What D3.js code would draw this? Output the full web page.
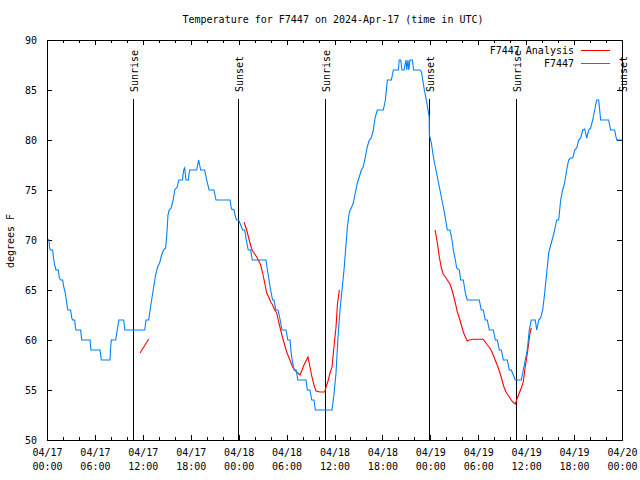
<!DOCTYPE html>
<html><head><meta charset="utf-8">
<script src="https://cdn.jsdelivr.net/npm/d3@7"></script>
<style>
body{margin:0;background:#fff}
text{font-family:"DejaVu Sans Mono","Liberation Mono",monospace;font-size:10px;fill:#000}
</style>
</head><body>
<svg id="c" width="640" height="480"></svg>
<script>
// ---------- data ----------
const title = "Temperature for F7447 on 2024-Apr-17 (time in UTC)";
const yAxisLabel = "degrees F";
const startUTC = Date.UTC(2024, 3, 17, 0, 0);
const xMajorHours = [0, 6, 12, 18, 24, 30, 36, 42, 48, 54, 60, 66, 72];
const xMinorHours = [2, 4, 8, 10, 14, 16, 20, 22, 26, 28, 32, 34, 38, 40, 44, 46, 50, 52, 56, 58, 62, 64, 68, 70];
const yTickValues = [50, 55, 60, 65, 70, 75, 80, 85, 90];
const sunEventNames = ["Sunrise", "Sunset", "Sunrise", "Sunset", "Sunrise", "Sunset"];
const sunEventHours = [10.81, 23.88, 34.85, 47.87, 58.77, 71.95];
const seriesNames = ["F7447 Analysis", "F7447"];

// observed station temperature (hours since 04/17 00:00 UTC)
const blueHours = [0, 0.25, 0.33, 0.46, 0.71, 0.8, 0.95, 1.04, 1.13, 1.42, 1.55, 1.71, 1.96, 2.1, 2.3, 2.45, 2.6, 2.96, 3.1, 3.21, 3.46, 3.55, 3.63, 4.21, 4.35, 5.38, 5.5, 6.64, 6.8, 7.89, 7.95, 8.05, 8.6, 8.8, 9.0, 9.6, 9.75, 12.23, 12.4, 12.73, 13.0, 13.3, 13.6, 13.85, 14.1, 14.35, 14.6, 14.85, 15.0, 15.15, 15.3, 15.55, 15.8, 16.0, 16.3, 16.5, 16.95, 17.12, 17.24, 17.4, 17.7, 17.85, 18.74, 18.99, 19.24, 19.74, 19.99, 20.3, 20.91, 21.16, 22.92, 23.1, 23.42, 23.6, 23.75, 24.0, 24.25, 24.5, 24.76, 24.95, 25.2, 25.5, 25.7, 27.42, 27.6, 27.8, 28.0, 28.25, 28.43, 28.65, 28.93, 29.2, 29.43, 29.93, 30.15, 30.43, 30.6, 30.75, 30.93, 31.2, 31.4, 32.43, 32.6, 32.93, 33.15, 33.43, 33.6, 35.69, 35.94, 36.19, 36.44, 36.69, 36.94, 37.19, 37.44, 37.61, 37.86, 38.1, 38.36, 38.6, 38.86, 39.1, 39.36, 39.6, 39.86, 40.1, 40.36, 40.6, 40.86, 41.1, 41.36, 42.11, 42.37, 42.62, 43.12, 43.37, 44.0, 44.1, 44.29, 44.45, 44.7, 44.95, 45.05, 45.2, 45.3, 45.45, 45.75, 45.9, 46.71, 46.9, 47.05, 47.25, 47.5, 47.71, 47.86, 47.88, 48.13, 48.38, 48.63, 48.88, 49.13, 49.38, 49.63, 49.88, 50.13, 50.46, 50.71, 50.88, 51.13, 51.3, 51.63, 51.8, 52.13, 52.38, 52.63, 54.13, 54.38, 54.63, 54.88, 55.13, 55.39, 55.89, 56.14, 56.39, 56.64, 56.89, 57.14, 57.64, 57.89, 58.14, 58.39, 58.64, 59.39, 59.64, 59.89, 60.14, 60.39, 60.64, 61.14, 61.32, 61.57, 61.82, 62.07, 62.32, 62.57, 62.82, 63.07, 63.32, 63.57, 63.82, 64.07, 64.32, 64.57, 64.82, 65.07, 65.32, 65.57, 65.83, 66.08, 66.33, 66.58, 66.83, 67.08, 67.33, 67.58, 67.83, 68.08, 68.33, 68.58, 68.83, 69.08, 69.33, 70.33, 70.58, 71.08, 71.33, 72];
const blueTemps = [70.1, 70, 69.2, 69, 69, 68.3, 67.5, 67.3, 67, 67, 66.2, 66, 66, 65.3, 64.7, 63.8, 63, 63, 62.2, 62, 62, 61.3, 61, 61, 60, 60, 59, 59, 58, 58, 59, 60, 60, 61, 62, 62, 61, 61, 62, 62, 63.5, 65, 66.5, 67.3, 67.7, 68.5, 69, 69.2, 70.5, 72.5, 73, 73.2, 74, 75, 75.3, 76, 76, 77, 77.2, 76, 76, 77, 77, 78, 77, 77, 76, 75, 75, 74, 74, 73.1, 73, 72.3, 72, 72, 71.5, 71, 71, 70, 69, 69, 68, 68, 67, 66, 65, 64, 64, 63, 63, 62, 61, 61, 60, 60, 58.5, 57.8, 57, 57, 56, 56, 55, 55, 54, 54, 53, 53, 54.6, 56.7, 60.3, 63, 65, 67, 69.5, 71.3, 72.8, 73.2, 73.7, 74.7, 75.7, 76.3, 77, 77.3, 78.3, 79.3, 80, 80.2, 81, 82.3, 83, 83, 84, 86, 86, 87, 87, 88, 88, 87, 87, 88, 87, 88, 87, 88, 88, 87, 87, 86.8, 86, 85, 84, 83, 82.3, 80.5, 79.7, 78.3, 77.3, 76.3, 75.3, 74.3, 73.3, 72.2, 71, 71, 70, 69, 68, 67.2, 67, 66, 66, 64.7, 64, 64, 63, 63, 62, 62, 61, 61, 60, 60, 59, 59, 58, 58, 57, 57, 56.5, 56, 56, 57, 58, 59, 61, 62, 62, 61, 62, 62.2, 63, 64.7, 66.7, 68.7, 69.5, 70.2, 71, 72, 72, 74, 75, 75.7, 77, 78, 78.2, 78.2, 79, 79.2, 80, 80.2, 81, 81.1, 80.2, 81, 81.2, 82, 83, 84, 84, 82, 82, 81, 81, 80, 80];

// analysis (null = gap)
const redHours = [11.65, 12.73, 12.74, 24.67, 25.0, 25.42, 25.67, 26.26, 26.76, 27.0, 27.26, 27.51, 27.76, 28.01, 28.26, 28.51, 28.76, 29.01, 29.26, 29.51, 29.76, 30.01, 30.26, 30.51, 30.76, 31.01, 31.25, 31.68, 32.18, 32.68, 32.93, 33.18, 33.43, 33.68, 34.18, 34.77, 34.94, 35.19, 35.44, 35.69, 35.86, 36.02, 36.19, 36.36, 36.52, 36.61, 36.62, 48.6, 48.88, 49.13, 49.38, 49.6, 49.88, 50.13, 50.46, 50.71, 50.88, 51.13, 51.38, 51.63, 51.88, 52.13, 52.38, 52.63, 52.88, 53.38, 54.63, 54.88, 55.13, 55.47, 55.72, 55.97, 56.22, 56.47, 56.72, 56.97, 57.22, 57.47, 57.72, 57.97, 58.22, 58.47, 58.64, 58.89, 59.14, 59.39, 59.64, 59.82, 59.98, 60.15, 60.32, 60.48, 60.65];
const redTemps = [58.7, 60.1, null, 71.8, 71, 69.7, 69, 68.3, 67.5, 66.7, 65.7, 64.7, 64.3, 63.8, 63.5, 63, 62.7, 61.8, 61, 60.2, 59.5, 58.8, 58.3, 57.8, 57.3, 57, 56.8, 56.5, 57.5, 58.3, 57.3, 56.3, 55.5, 54.9, 54.8, 54.8, 55.3, 55.9, 56.7, 57.3, 58.7, 60, 61.3, 63.5, 64.5, 65, null, 71, 69.7, 68.3, 67.2, 66.6, 66.3, 66, 65.6, 65, 64.5, 63.7, 62.8, 62.2, 61.5, 60.8, 60.3, 59.9, 60, 60.07, 60.07, 59.8, 59.5, 59.2, 58.8, 58.3, 57.8, 57.3, 56.7, 56, 55.3, 54.8, 54.5, 54.2, 53.9, 53.7, 53.6, 54.2, 54.7, 55.2, 55.8, 57, 57.8, 58.7, 59.7, 60.7, 61.2];

const colors = ["#ff0000", "#0080ff"];

// ---------- chart ----------
const L = 47, R = 622, T = 40, B = 440;
const toDate = h => new Date(startUTC + h * 3600e3);
const x = d3.scaleUtc().domain([toDate(0), toDate(72)]).range([L, R]);
const y = d3.scaleLinear().domain([50, 90]).range([B, T]);
const svg = d3.select("#c");

function strip(g){ g.select(".domain").remove(); g.attr("font-family", null).attr("font-size", null); g.selectAll("line").attr("shape-rendering","crispEdges"); }

// bottom axis with labels
const fmtD = d3.utcFormat("%m/%d"), fmtT = d3.utcFormat("%H:%M");
const gb = svg.append("g").attr("transform", `translate(0,${B})`)
  .call(d3.axisBottom(x).tickValues(xMajorHours.map(toDate)).tickSizeInner(-5).tickSizeOuter(0));
strip(gb);
gb.selectAll(".tick text").each(function(d){
  const t = d3.select(this).attr("dy", null).attr("y", null).text(null);
  t.append("tspan").attr("x", 0).attr("y", 16).text(fmtD(d));
  t.append("tspan").attr("x", 0).attr("y", 30).text(fmtT(d));
});
const gbm = svg.append("g").attr("transform", `translate(0,${B})`)
  .call(d3.axisBottom(x).tickValues(xMinorHours.map(toDate)).tickSizeInner(-3).tickSizeOuter(0).tickFormat(""));
strip(gbm);
// top axis (mirror)
const gt = svg.append("g").attr("transform", `translate(0,${T})`)
  .call(d3.axisTop(x).tickValues(xMajorHours.map(toDate)).tickSizeInner(-5).tickSizeOuter(0).tickFormat(""));
strip(gt);
const gtm = svg.append("g").attr("transform", `translate(0,${T})`)
  .call(d3.axisTop(x).tickValues(xMinorHours.map(toDate)).tickSizeInner(-3).tickSizeOuter(0).tickFormat(""));
strip(gtm);
// left / right axes
const gl = svg.append("g").attr("transform", `translate(${L},0)`)
  .call(d3.axisLeft(y).tickValues(yTickValues).tickSizeInner(-5).tickSizeOuter(0).tickPadding(10));
strip(gl);
const gr = svg.append("g").attr("transform", `translate(${R},0)`)
  .call(d3.axisRight(y).tickValues(yTickValues).tickSizeInner(-5).tickSizeOuter(0).tickFormat(""));
strip(gr);

// sunrise / sunset markers
sunEventHours.forEach((h, i) => {
  const px = Math.round(x(toDate(h))) + 0.5;
  svg.append("line").attr("x1", px).attr("x2", px).attr("y1", 99).attr("y2", B)
    .attr("stroke", "#000").attr("stroke-width", 1).attr("shape-rendering","crispEdges");
  svg.append("text").attr("transform", `translate(${px + 4.5},92) rotate(-90)`)
    .attr("text-anchor", "start").text(sunEventNames[i]);
});

// series
const lineGen = d3.line().defined(d => d[1] !== null)
  .x(d => x(toDate(d[0]))).y(d => y(d[1]));
const redData = redHours.map((h, i) => [h, redTemps[i]]);
const blueData = blueHours.map((h, i) => [h, blueTemps[i]]);
svg.append("path").attr("d", lineGen(redData)).attr("fill", "none")
  .attr("stroke", colors[0]).attr("stroke-width", 1.1);
svg.append("path").attr("d", lineGen(blueData)).attr("fill", "none")
  .attr("stroke", colors[1]).attr("stroke-width", 1.1);

// frame
svg.append("rect").attr("x", L + 0.5).attr("y", T + 0.5).attr("width", R - L).attr("height", B - T)
  .attr("fill", "none").attr("stroke", "#000").attr("shape-rendering","crispEdges");

// legend
seriesNames.forEach((n, i) => {
  const ly = 50 + i * 13;
  svg.append("text").attr("x", 574).attr("y", ly + 3.5).attr("text-anchor", "end").text(n);
  svg.append("line").attr("x1", 581).attr("x2", 610).attr("y1", ly + 0.5).attr("y2", ly + 0.5)
    .attr("stroke", colors[i]).attr("shape-rendering","crispEdges");
});

// title and y label
svg.append("text").attr("x", 333).attr("y", 23).attr("text-anchor", "middle").text(title);
svg.append("text").attr("transform", "translate(14,241) rotate(-90)").attr("text-anchor", "middle").text(yAxisLabel);
</script>
</body></html>
